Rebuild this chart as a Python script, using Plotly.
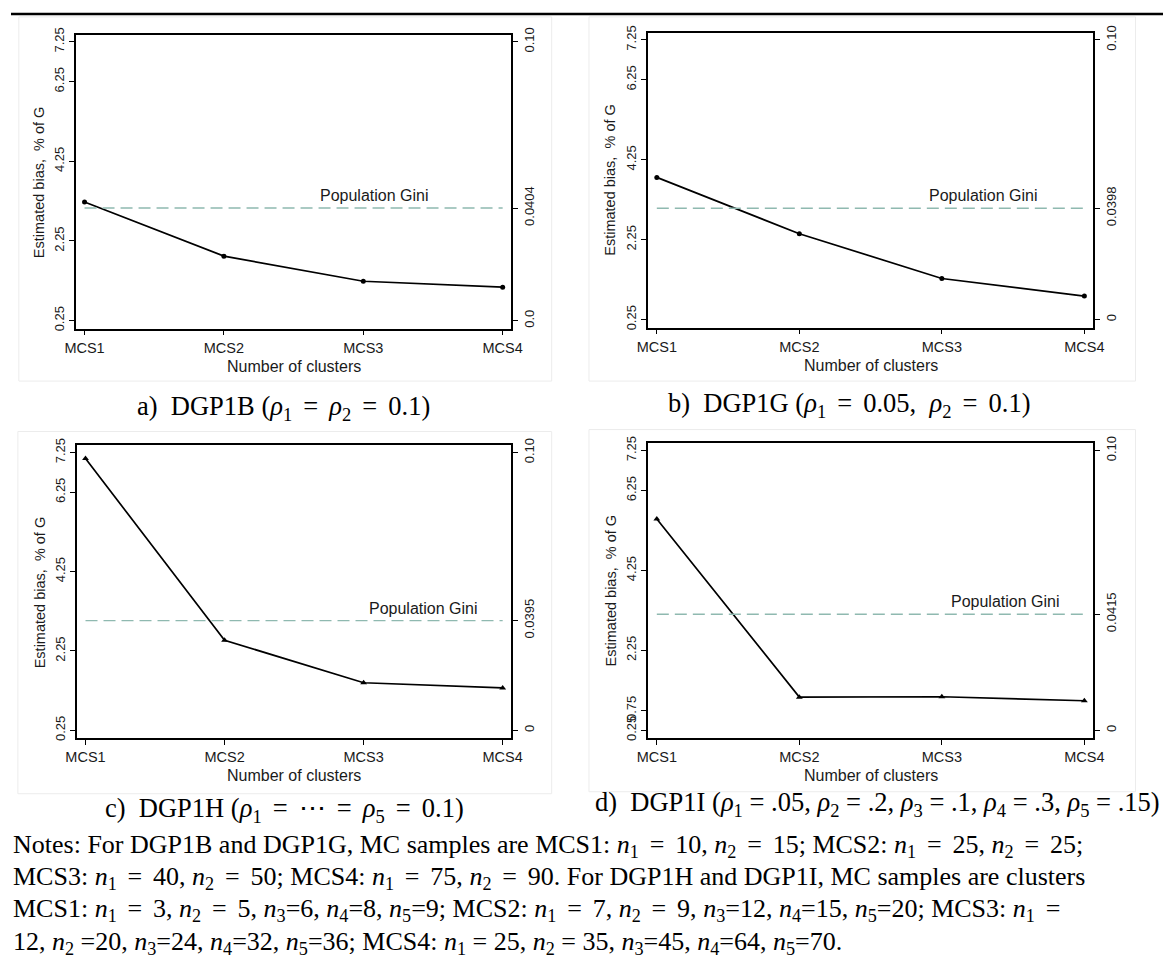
import plotly.graph_objects as go

# ---- data -------------------------------------------------------------
categories = ["MCS1", "MCS2", "MCS3", "MCS4"]

bias_1b = [3.23, 1.87, 1.24, 1.09]   # DGP1B, estimated bias (% of G)
bias_1g = [3.81, 2.40, 1.28, 0.84]   # DGP1G
bias_1h = [7.10, 2.52, 1.45, 1.32]   # DGP1H
bias_1i = [5.54, 1.08, 1.09, 0.99]   # DGP1I

gini_1b = 0.0404   # population Gini (right axis)
gini_1g = 0.0398
gini_1h = 0.0395
gini_1i = 0.0415

left_ticks = [0.25, 2.25, 4.25, 6.25, 7.25]
left_ticks_1i = [0.25, 0.75, 2.25, 4.25, 6.25, 7.25]

EQ = "\u2004\u200a=\u2004\u200a"   # display-math spacing around "="


def rho(k):
    return f"<i>ρ</i><sub>{k}</sub>"


def n(k):
    return f"<i>n</i><sub>{k}</sub>"


captions = [
    f"a)  DGP1B ({rho(1)}{EQ}{rho(2)}{EQ}0.1)",
    f"b)  DGP1G ({rho(1)}{EQ}0.05,  {rho(2)}{EQ}0.1)",
    f"c)  DGP1H ({rho(1)}{EQ}⋯{EQ}{rho(5)}{EQ}0.1)",
    f"d)  DGP1I ({rho(1)} = .05, {rho(2)} = .2, {rho(3)} = .1, {rho(4)} = .3, {rho(5)} = .15)",
]

notes = [
    f"Notes: For DGP1B and DGP1G, MC samples are MCS1: {n(1)}{EQ}10, {n(2)}{EQ}15; "
    f"MCS2: {n(1)}{EQ}25, {n(2)}{EQ}25;",
    f"MCS3: {n(1)}{EQ}40, {n(2)}{EQ}50; MCS4: {n(1)}{EQ}75, {n(2)}{EQ}90. "
    f"For DGP1H and DGP1I, MC samples are clusters",
    f"MCS1: {n(1)}{EQ}3, {n(2)}{EQ}5, {n(3)}=6, {n(4)}=8, {n(5)}=9; "
    f"MCS2: {n(1)}{EQ}7, {n(2)}{EQ}9, {n(3)}=12, {n(4)}=15, {n(5)}=20; MCS3: {n(1)}{EQ}",
    f"12, {n(2)} =20, {n(3)}=24, {n(4)}=32, {n(5)}=36; "
    f"MCS4: {n(1)} = 25, {n(2)} = 35, {n(3)}=45, {n(4)}=64, {n(5)}=70.",
]

# ---- geometry (pixels) ------------------------------------------------
W, H = 1174, 961
SANS = "Liberation Sans, Arial, sans-serif"
SERIF = "Liberation Serif, Times New Roman, serif"
INK = "#1a1a1a"

# plot frames: (left, right, top, bottom)
frames = [
    (66, 510, 28, 325),
    (649, 1103, 26, 324),
    (67, 510, 443, 739),
    (649, 1103, 441, 739),
]
LEFT_RANGE = [0.05, 7.43]
# right axis maps 0 -> 0.25 and 0.10 -> 7.25 on the left scale
RIGHT_RANGE = [(v - 0.25) / 70.0 for v in LEFT_RANGE]

panels = [
    dict(y=bias_1b, gini=gini_1b, sym="circle", msize=5, zero="0.0", lt=left_ticks, gx=3.08),
    dict(y=bias_1g, gini=gini_1g, sym="circle", msize=5, zero="0", lt=left_ticks, gx=3.29),
    dict(y=bias_1h, gini=gini_1h, sym="triangle-up", msize=6, zero="0", lt=left_ticks, gx=3.43),
    dict(y=bias_1i, gini=gini_1i, sym="triangle-up", msize=6, zero="0", lt=left_ticks_1i, gx=3.45),
]

xpos = list(range(1, len(categories) + 1))
XRANGE = [0.937, 4.063]

fig = go.Figure()
layout = dict(
    width=W, height=H,
    margin=dict(l=0, r=0, t=0, b=0),
    paper_bgcolor="white", plot_bgcolor="white",
    showlegend=False,
    font=dict(family=SANS, color=INK, size=14),
)
annotations = []
shapes = []

for i, (p, fr) in enumerate(zip(panels, frames)):
    l, r, t, b = fr
    xa = "xaxis" if i == 0 else f"xaxis{i + 1}"
    xref = "x" if i == 0 else f"x{i + 1}"
    ly = 2 * i + 1
    ry = 2 * i + 2
    lya = "yaxis" if ly == 1 else f"yaxis{ly}"
    lyref = "y" if ly == 1 else f"y{ly}"
    rya = f"yaxis{ry}"
    ryref = f"y{ry}"

    dom_x = [l / W, r / W]
    dom_y = [1 - b / H, 1 - t / H]

    layout[xa] = dict(
        domain=dom_x, anchor=lyref, range=XRANGE,
        tickvals=xpos, ticktext=categories,
        ticks="outside", ticklen=5, tickwidth=1, tickcolor="black",
        showline=True, linecolor="black", linewidth=1.5, mirror=True,
        showgrid=False, zeroline=False,
        tickfont=dict(size=14.5, family=SANS, color=INK),
    )
    layout[lya] = dict(
        domain=dom_y, anchor=xref, range=LEFT_RANGE,
        tickvals=p["lt"], ticktext=[f"{v:.2f}" for v in p["lt"]],
        tickangle=-90,
        ticks="outside", ticklen=5, tickwidth=1, tickcolor="black",
        showline=True, linecolor="black", linewidth=1.5,
        showgrid=False, zeroline=False,
        tickfont=dict(size=13, family=SANS, color=INK),
    )
    layout[rya] = dict(
        overlaying=lyref, anchor=xref, side="right", range=RIGHT_RANGE,
        tickvals=[0, p["gini"], 0.10],
        ticktext=[p["zero"], f"{p['gini']}", "0.10"],
        tickangle=-90,
        ticks="outside", ticklen=5, tickwidth=1, tickcolor="black",
        showline=True, linecolor="black", linewidth=1.5,
        showgrid=False, zeroline=False,
        tickfont=dict(size=13, family=SANS, color=INK),
    )

    # population Gini reference line (right axis)
    fig.add_trace(go.Scatter(
        x=[xpos[0], xpos[-1]], y=[p["gini"], p["gini"]],
        xaxis=xref, yaxis=ryref, mode="lines",
        line=dict(color="#8fb9b0", width=1.4, dash="12px,6px"),
        hoverinfo="skip",
    ))
    # estimated bias (left axis)
    fig.add_trace(go.Scatter(
        x=xpos, y=p["y"], xaxis=xref, yaxis=lyref,
        mode="lines+markers",
        line=dict(color="black", width=1.7),
        marker=dict(symbol=p["sym"], size=p["msize"], color="black"),
    ))

    annotations.append(dict(
        x=p["gx"], y=p["gini"], xref=xref, yref=ryref,
        text="Population Gini", showarrow=False,
        yanchor="bottom", yshift=2,
        font=dict(size=16, family=SANS, color=INK),
    ))
    # axis titles
    annotations.append(dict(
        x=(l + r) / 2 / W, y=1 - (b + 38) / H, xref="paper", yref="paper",
        text="Number of clusters", showarrow=False,
        xanchor="center", yanchor="middle",
        font=dict(size=16, family=SANS, color=INK),
    ))
    annotations.append(dict(
        x=(l - 38) / W, y=1 - (t + b) / 2 / H, xref="paper", yref="paper",
        text="Estimated bias,  % of G", showarrow=False, textangle=-90,
        xanchor="center", yanchor="middle",
        font=dict(size=14.5, family=SANS, color=INK),
    ))

# captions under each panel
cap_pos = [(278, 405), (854, 402), (279, 811), (883, 805)]
for txt, (cx, cy) in zip(captions, cap_pos):
    annotations.append(dict(
        x=cx / W, y=1 - cy / H, xref="paper", yref="paper",
        text=txt, showarrow=False, xanchor="center", yanchor="middle",
        font=dict(size=26.5, family=SERIF, color="black"),
    ))

# notes block
for k, line in enumerate(notes):
    annotations.append(dict(
        x=0, y=1 - (848 + 32.5 * k) / H, xref="paper", yref="paper",
        text=line, showarrow=False, xanchor="left", yanchor="middle",
        font=dict(size=26, family=SERIF, color="black"),
    ))

# rule at the top of the page
shapes.append(dict(type="line", xref="paper", yref="paper",
                   x0=0, x1=1, y0=1 - 7 / H, y1=1 - 7 / H,
                   line=dict(color="black", width=2.5)))
# faint outlines of the individual graph images
faint = dict(color="#ececec", width=1)
for (x0, x1, y0, y1) in [(8, 551, 10, 378), (589, 1146, 10, 378),
                         (7, 551, 429, 795), (589, 1146, 427, 793)]:
    shapes.append(dict(type="rect", xref="paper", yref="paper",
                       x0=x0 / W, x1=x1 / W, y0=1 - y1 / H, y1=1 - y0 / H,
                       line=faint, fillcolor="rgba(0,0,0,0)", layer="below"))

layout["annotations"] = annotations
layout["shapes"] = shapes
fig.update_layout(**layout)
fig.write_html("out.html")
